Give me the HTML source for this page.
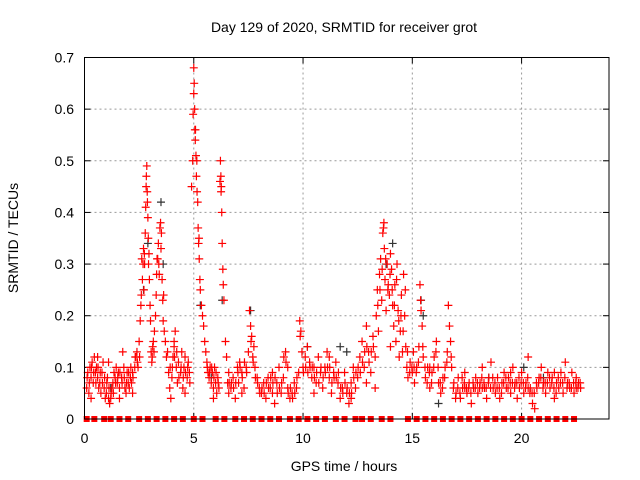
<!DOCTYPE html>
<html><head><meta charset="utf-8"><style>
body{margin:0;background:#fff;}
svg{display:block;font-family:"Liberation Sans",sans-serif;}
</style></head><body>
<svg id="chart" width="640" height="480" viewBox="0 0 640 480">
<rect width="640" height="480" fill="#fff"/>
<text x="344" y="32" font-size="14" text-anchor="middle">Day 129 of 2020, SRMTID for receiver grot</text>
<text x="344" y="471" font-size="14" text-anchor="middle">GPS time / hours</text>
<text transform="translate(18,238) rotate(-90)" font-size="14" text-anchor="middle">SRMTID / TECUs</text>
<g id="grid"></g>
<g id="ticks"></g>
<g id="black"></g>
<g id="red"></g>
<rect x="84.5" y="57.5" width="524.5" height="361.5" fill="none" stroke="#000" stroke-width="1"/>
</svg>
<script>
const xTicks=[0,5,10,15,20];
const yTicks=[0,0.1,0.2,0.3,0.4,0.5,0.6,0.7];
const yTickLabels=["0","0.1","0.2","0.3","0.4","0.5","0.6","0.7"];
const zeroTimes=[0.1,0.45,0.9,1.2,1.6,2.0,2.5,2.9,3.3,3.7,4.1,4.5,5.0,5.4,6.0,6.4,6.9,7.3,7.7,8.1,8.5,8.9,9.4,9.8,10.2,10.6,11.0,11.5,11.9,12.4,12.7,13.1,13.6,14.0,14.8,15.2,15.6,16.0,16.4,16.8,17.2,17.6,18.0,18.4,18.8,19.2,19.6,20.0,20.4,20.8,21.2,21.6,22.0,22.4];
const redPts=[
[0.1,0.06],[0.15,0.09],[0.2,0.05],[0.25,0.1],[0.3,0.08],[0.35,0.11],[0.4,0.07],[0.45,0.12],[0.5,0.09],[0.55,0.1],[0.6,0.08],[0.65,0.06],[0.7,0.07],[0.75,0.05],[0.8,0.09],[0.85,0.11],[0.9,0.06],[0.95,0.04],[1.0,0.05],[1.05,0.08],[1.1,0.04],[1.15,0.03],[1.2,0.04],[1.25,0.06],[1.3,0.07],[1.35,0.09],[1.4,0.08],[1.45,0.1],[1.5,0.07],[1.55,0.09],[1.6,0.06],[1.7,0.08],[1.75,0.13],[1.8,0.1],[1.85,0.06],[1.9,0.05],[1.95,0.09],[2.0,0.07],[2.05,0.06],[2.1,0.08],[2.15,0.07],[2.2,0.09],[2.3,0.1],[2.35,0.12],[2.4,0.13],[2.45,0.1],[2.5,0.15],[2.55,0.19],[2.6,0.24],[2.62,0.31],[2.65,0.27],[2.7,0.33],[2.72,0.25],[2.75,0.3],[2.78,0.36],[2.8,0.41],[2.83,0.47],[2.85,0.49],[2.87,0.44],[2.9,0.39],[2.92,0.35],[2.95,0.32],[2.97,0.27],[3.0,0.22],[3.02,0.19],[3.05,0.13],[3.08,0.11],[3.1,0.12],[3.15,0.15],[3.2,0.17],[3.25,0.2],[3.28,0.24],[3.3,0.28],[3.35,0.31],[3.38,0.34],[3.4,0.3],[3.45,0.37],[3.48,0.38],[3.5,0.33],[3.55,0.27],[3.58,0.23],[3.6,0.19],[3.65,0.17],[3.7,0.15],[3.8,0.13],[3.85,0.09],[3.9,0.06],[3.95,0.04],[4.0,0.08],[4.05,0.12],[4.1,0.15],[4.15,0.17],[4.2,0.1],[4.25,0.07],[4.3,0.11],[4.4,0.09],[4.45,0.13],[4.5,0.06],[4.55,0.1],[4.6,0.12],[4.7,0.08],[4.75,0.11],[4.8,0.09],[4.9,0.45],[4.95,0.5],[4.97,0.59],[5.0,0.63],[5.0,0.68],[5.02,0.65],[5.05,0.56],[5.07,0.54],[5.1,0.51],[5.12,0.47],[5.15,0.44],[5.18,0.42],[5.2,0.37],[5.22,0.34],[5.25,0.31],[5.28,0.27],[5.3,0.25],[5.35,0.22],[5.4,0.2],[5.45,0.18],[5.5,0.15],[5.55,0.13],[5.6,0.11],[5.65,0.09],[5.7,0.08],[5.75,0.1],[5.8,0.07],[5.85,0.09],[5.9,0.06],[5.95,0.1],[6.0,0.07],[6.05,0.05],[6.1,0.08],[6.15,0.06],[6.2,0.46],[6.22,0.5],[6.25,0.44],[6.28,0.4],[6.3,0.34],[6.33,0.29],[6.35,0.26],[6.38,0.23],[6.45,0.15],[6.5,0.12],[6.55,0.07],[6.6,0.05],[6.7,0.06],[6.8,0.08],[6.9,0.04],[7.0,0.1],[7.05,0.07],[7.1,0.11],[7.2,0.09],[7.3,0.06],[7.4,0.1],[7.5,0.13],[7.55,0.21],[7.6,0.18],[7.65,0.16],[7.7,0.12],[7.75,0.14],[7.8,0.1],[7.9,0.08],[8.0,0.06],[8.1,0.05],[8.2,0.07],[8.3,0.04],[8.4,0.08],[8.5,0.06],[8.6,0.09],[8.7,0.03],[8.8,0.07],[8.9,0.1],[9.0,0.05],[9.1,0.08],[9.2,0.13],[9.3,0.06],[9.4,0.04],[9.5,0.05],[9.6,0.07],[9.7,0.06],[9.8,0.09],[9.85,0.19],[9.9,0.17],[9.95,0.13],[10.0,0.1],[10.1,0.12],[10.2,0.14],[10.3,0.11],[10.4,0.08],[10.5,0.1],[10.6,0.07],[10.7,0.12],[10.8,0.09],[10.9,0.06],[11.0,0.1],[11.1,0.13],[11.2,0.08],[11.3,0.05],[11.4,0.09],[11.5,0.11],[11.6,0.07],[11.7,0.04],[11.8,0.06],[11.9,0.09],[12.0,0.05],[12.1,0.03],[12.2,0.07],[12.3,0.1],[12.4,0.06],[12.5,0.08],[12.6,0.12],[12.7,0.15],[12.8,0.1],[12.9,0.18],[13.0,0.13],[13.1,0.09],[13.2,0.16],[13.3,0.12],[13.35,0.2],[13.4,0.25],[13.45,0.17],[13.5,0.28],[13.55,0.31],[13.6,0.23],[13.65,0.36],[13.7,0.38],[13.72,0.33],[13.75,0.27],[13.8,0.21],[13.85,0.3],[13.9,0.26],[13.95,0.24],[14.0,0.32],[14.05,0.29],[14.1,0.22],[14.15,0.18],[14.2,0.26],[14.25,0.15],[14.3,0.3],[14.35,0.21],[14.4,0.12],[14.45,0.17],[14.5,0.24],[14.55,0.13],[14.6,0.28],[14.65,0.2],[14.7,0.14],[14.75,0.1],[14.8,0.08],[14.9,0.11],[15.0,0.09],[15.05,0.13],[15.1,0.07],[15.2,0.1],[15.3,0.14],[15.35,0.26],[15.4,0.21],[15.45,0.18],[15.5,0.12],[15.6,0.08],[15.7,0.1],[15.8,0.06],[15.9,0.09],[16.0,0.12],[16.1,0.15],[16.2,0.07],[16.3,0.05],[16.4,0.08],[16.5,0.1],[16.6,0.13],[16.65,0.22],[16.7,0.18],[16.75,0.15],[16.8,0.1],[16.9,0.07],[17.0,0.05],[17.1,0.08],[17.2,0.04],[17.3,0.06],[17.4,0.09],[17.5,0.05],[17.6,0.07],[17.7,0.03],[17.8,0.06],[17.9,0.08],[18.0,0.05],[18.1,0.07],[18.2,0.1],[18.3,0.06],[18.4,0.04],[18.5,0.08],[18.6,0.11],[18.7,0.06],[18.8,0.05],[18.9,0.08],[19.0,0.04],[19.1,0.07],[19.2,0.09],[19.3,0.06],[19.4,0.08],[19.5,0.05],[19.6,0.1],[19.7,0.07],[19.8,0.04],[19.9,0.06],[20.0,0.09],[20.1,0.05],[20.2,0.07],[20.3,0.12],[20.4,0.06],[20.5,0.03],[20.6,0.02],[20.7,0.06],[20.8,0.08],[20.9,0.1],[21.0,0.07],[21.1,0.05],[21.2,0.09],[21.3,0.06],[21.4,0.08],[21.5,0.04],[21.6,0.07],[21.7,0.06],[21.8,0.09],[21.9,0.05],[22.0,0.11],[22.1,0.07],[22.2,0.06],[22.3,0.09],[22.4,0.05],[22.5,0.08],[22.6,0.07],[22.7,0.06],
[0.3,0.04],[0.6,0.12],[1.1,0.11],[1.6,0.04],[2.2,0.05],[4.1,0.14],[4.6,0.05],[5.9,0.04],[6.6,0.09],[7.2,0.05],[8.6,0.05],[9.3,0.1],[10.5,0.05],[11.2,0.12],[12.2,0.04],[12.9,0.07],[13.3,0.06],[14.0,0.14],[15.8,0.1],[17.4,0.06],[18.2,0.06],[19.5,0.09],[20.3,0.06],[21.5,0.09],[22.5,0.06],
[0.12,0.08],[0.22,0.07],[0.32,0.1],[0.42,0.09],[0.52,0.07],[0.62,0.1],[0.72,0.09],[0.82,0.07],[0.92,0.08],[1.02,0.07],[1.12,0.06],[1.22,0.05],[1.32,0.05],[1.42,0.07],[1.52,0.08],[1.62,0.09],[1.72,0.07],[1.82,0.08],[1.92,0.07],[2.02,0.09],[2.12,0.1],[2.22,0.08],[2.32,0.12],[2.42,0.11],[2.52,0.12],[2.58,0.22],[2.68,0.3],[2.74,0.32],[2.82,0.45],[2.88,0.42],[2.93,0.3],[3.12,0.14],[3.18,0.13],[3.32,0.31],[3.42,0.28],[3.52,0.36],[3.62,0.24],[3.75,0.12],[3.92,0.1],[4.02,0.1],[4.12,0.12],[4.22,0.13],[4.32,0.08],[4.42,0.1],[4.52,0.08],[4.62,0.09],[4.72,0.1],[4.82,0.07],[5.04,0.6],[5.08,0.56],[5.14,0.5],[5.24,0.35],[5.62,0.1],[5.72,0.09],[5.82,0.1],[5.92,0.08],[6.02,0.09],[6.12,0.07],[6.24,0.47],[6.26,0.45],[6.62,0.07],[6.72,0.07],[6.82,0.06],[6.92,0.07],[7.02,0.09],[7.12,0.1],[7.22,0.08],[7.32,0.11],[7.42,0.09],[7.62,0.15],[7.72,0.11],[7.82,0.08],[7.92,0.07],[8.02,0.05],[8.12,0.06],[8.22,0.05],[8.32,0.07],[8.42,0.06],[8.52,0.08],[8.62,0.07],[8.72,0.08],[8.82,0.05],[8.92,0.06],[9.02,0.07],[9.12,0.12],[9.22,0.11],[9.32,0.05],[9.42,0.06],[9.52,0.04],[9.62,0.05],[9.72,0.08],[9.87,0.16],[10.02,0.09],[10.12,0.1],[10.22,0.09],[10.32,0.1],[10.42,0.1],[10.52,0.08],[10.62,0.09],[10.72,0.07],[10.82,0.1],[10.92,0.08],[11.02,0.09],[11.12,0.1],[11.22,0.1],[11.32,0.07],[11.42,0.08],[11.52,0.08],[11.62,0.09],[11.72,0.06],[11.82,0.05],[11.92,0.07],[12.02,0.06],[12.12,0.05],[12.22,0.05],[12.32,0.08],[12.42,0.09],[12.52,0.1],[12.62,0.09],[12.72,0.11],[12.82,0.13],[12.92,0.14],[13.02,0.11],[13.12,0.13],[13.22,0.14],[13.42,0.22],[13.52,0.25],[13.62,0.29],[13.68,0.37],[13.78,0.31],[13.88,0.25],[13.98,0.28],[14.08,0.25],[14.18,0.22],[14.28,0.27],[14.38,0.19],[14.48,0.2],[14.58,0.17],[14.68,0.25],[14.78,0.13],[14.88,0.09],[14.98,0.1],[15.08,0.1],[15.18,0.09],[15.28,0.11],[15.38,0.23],[15.48,0.14],[15.58,0.1],[15.68,0.07],[15.78,0.09],[15.88,0.07],[15.98,0.1],[16.08,0.13],[16.18,0.1],[16.28,0.07],[16.38,0.06],[16.48,0.08],[16.58,0.11],[16.78,0.12],[16.88,0.06],[16.98,0.04],[17.08,0.06],[17.18,0.05],[17.28,0.08],[17.38,0.07],[17.48,0.06],[17.58,0.06],[17.68,0.05],[17.78,0.07],[17.88,0.06],[17.98,0.07],[18.08,0.06],[18.18,0.08],[18.28,0.07],[18.38,0.06],[18.48,0.07],[18.58,0.06],[18.68,0.08],[18.78,0.07],[18.88,0.06],[18.98,0.06],[19.08,0.05],[19.18,0.07],[19.28,0.08],[19.38,0.06],[19.48,0.07],[19.58,0.07],[19.68,0.06],[19.78,0.07],[19.88,0.08],[19.98,0.07],[20.08,0.07],[20.18,0.06],[20.28,0.08],[20.38,0.05],[20.48,0.05],[20.58,0.05],[20.68,0.07],[20.78,0.07],[20.88,0.08],[20.98,0.06],[21.08,0.07],[21.18,0.07],[21.28,0.08],[21.38,0.07],[21.48,0.06],[21.58,0.05],[21.68,0.08],[21.78,0.07],[21.88,0.07],[21.98,0.08],[22.08,0.06],[22.18,0.07],[22.28,0.06],[22.38,0.07],[22.48,0.07],[22.58,0.06],[22.68,0.07]
];
const blackPts=[[1.2,0.06],[2.7,0.25],[2.9,0.34],[3.5,0.42],[3.6,0.3],[5.3,0.22],[5.8,0.08],[6.3,0.23],[7.6,0.21],[10.2,0.14],[11.7,0.14],[12.0,0.13],[13.8,0.3],[14.1,0.34],[15.4,0.23],[15.5,0.2],[16.2,0.03],[18.5,0.08],[20.1,0.1],[21.0,0.08]];
const X0=84.5,X1=609,XMAX=24.0,Y0=419,Y1=57.5,YMAX=0.7;
function xs(t){return X0+(X1-X0)*t/XMAX;}
function ys(v){return Y0-(Y0-Y1)*v/YMAX;}
const NS='http://www.w3.org/2000/svg';
function mk(tag,attrs,parent){const e=document.createElementNS(NS,tag);for(const k in attrs)e.setAttribute(k,attrs[k]);parent.appendChild(e);return e;}
const grid=document.getElementById('grid'),ticks=document.getElementById('ticks');
xTicks.forEach(t=>{const x=xs(t);
 if(t>0){const g=mk('line',{x1:x,x2:x,y1:Y1,y2:Y0,stroke:'#999','stroke-dasharray':'2,3'},grid);
 
 }
 mk('line',{x1:x,x2:x,y1:Y0,y2:Y0-6,stroke:'#000'},ticks);mk('line',{x1:x,x2:x,y1:Y1,y2:Y1+6,stroke:'#000'},ticks);
 const tx=mk('text',{x:x,y:443,'font-size':14,'text-anchor':'middle'},ticks);tx.textContent=t;
 
 });
yTicks.forEach((v,i)=>{const y=ys(v);
 if(v>0&&v<0.7){const g=mk('line',{x1:X0,x2:X1,y1:y,y2:y,stroke:'#999','stroke-dasharray':'2,3'},grid);
 
 }
 mk('line',{x1:X0,x2:X0+6,y1:y,y2:y,stroke:'#000'},ticks);mk('line',{x1:X1,x2:X1-6,y1:y,y2:y,stroke:'#000'},ticks);
 const tx=mk('text',{x:74,y:y+5,'font-size':14,'text-anchor':'end'},ticks);tx.textContent=yTickLabels[i];
 
 });
function plus(t,v,col,parent){const x=xs(t),y=ys(v);const p=mk('path',{d:`M${x-4} ${y}H${x+4}M${x} ${y-4}V${y+4}`,stroke:col,'stroke-width':1.2,fill:'none'},parent);return p;}
const bg=document.getElementById('black'),rg=document.getElementById('red');
blackPts.forEach(p=>{const e=plus(p[0],p[1],'#333',bg);
 
 });
redPts.forEach(p=>{const e=plus(p[0],p[1],'#f00',rg);
 
 });
zeroTimes.forEach(t=>{const e=mk('rect',{x:xs(t)-3,y:Y0-3,width:6,height:6,fill:'#f00'},rg);
 
 });
</script>
</body></html>
